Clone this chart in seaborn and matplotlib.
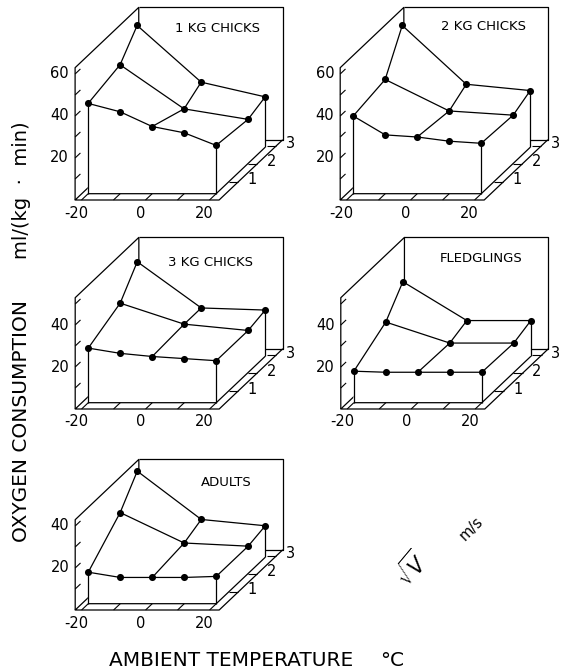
import numpy as np
import pandas as pd
import matplotlib
matplotlib.use("Agg")
import matplotlib.pyplot as plt
import seaborn as sns
from matplotlib.patches import Polygon

# ---------------- data ----------------
temps_front = [-20, -10, 0, 10, 20]          # ambient temperature, front row (degC)
temps_grid = [-20, 0, 20]                    # temperatures measured at higher winds
sqrt_v = [0.35, 2.03, 2.93]                  # sqrt(wind speed) of front / middle / back rows

panel_names = ["1 KG CHICKS", "2 KG CHICKS", "3 KG CHICKS", "FLEDGLINGS", "ADULTS"]

front_1kg = [43, 39, 32, 29, 23]
mid_1kg = [47, 26, 21]
back_1kg = [58, 31, 24]

front_2kg = [37, 28, 27, 25, 24]
mid_2kg = [40, 25, 23]
back_2kg = [58, 30, 27]

front_3kg = [26, 23.5, 22, 21, 20]
mid_3kg = [33, 23, 20]
back_3kg = [45, 23, 22]

front_fledg = [15, 14.5, 14.5, 14.5, 14.5]
mid_fledg = [24, 14, 14]
back_fledg = [35.5, 17, 17]

front_adult = [15, 12.5, 12.5, 12.5, 13]
mid_adult = [29, 14.5, 13]
back_adult = [41, 18, 15]

z_top = [63, 63, 53, 53, 43]                 # height of the box walls per panel
z_labels = [[20, 40, 60], [20, 40, 60], [20, 40], [20, 40], [20, 40]]
x_ticks = [-20, -10, 0, 10, 20]
x_labels = [-20, 0, 20]
v_ticks = [1, 2, 3]

panel_data = [
    (front_1kg, mid_1kg, back_1kg),
    (front_2kg, mid_2kg, back_2kg),
    (front_3kg, mid_3kg, back_3kg),
    (front_fledg, mid_fledg, back_fledg),
    (front_adult, mid_adult, back_adult),
]

# ---------------- layout ----------------
W, H = 562, 671
T_MIN, T_MAX, D_MAX = -22, 23, 3.35
SX, SZ = 3.2, 2.1          # pixels per degC, pixels per ml/(kg min)
DX, DY = 19.0, 18.0        # pixels per unit sqrt(v) (oblique depth direction)

origins = [(145.5, 200), (410.6, 200), (145.6, 409), (411.2, 409), (145.6, 610)]
title_pos = [(71.6, 172), (72.6, 173), (64.6, 147), (69.6, 151), (80.6, 128)]

XL = (-115, 175)
YL = (-30, 200)


def proj(T, d, z):
    T = np.asarray(T, float)
    d = np.asarray(d, float)
    z = np.asarray(z, float)
    return SX * T + DX * d, SZ * z + DY * d


sns.set_style("white")
plt.rcParams["font.family"] = ["DejaVu Sans"]
plt.rcParams["text.color"] = "black"

fig = plt.figure(figsize=(W / 100, H / 100), dpi=100)

LW = 0.9
K = "black"
TICK_FS = 10.5

for p, (name, (zf, zm, zb)) in enumerate(zip(panel_names, panel_data)):
    ox, oy = origins[p]
    left = (ox + XL[0]) / W
    bottom = (H - oy + YL[0]) / H
    ax = fig.add_axes([left, bottom, (XL[1] - XL[0]) / W, (YL[1] - YL[0]) / H])
    ax.set_xlim(*XL)
    ax.set_ylim(*YL)
    ax.set_axis_off()
    ax.patch.set_alpha(0)
    zt = z_top[p]

    def line(pts, z=1, lw=LW):
        T, d, zz = zip(*pts)
        x, y = proj(T, d, zz)
        ax.plot(x, y, color=K, lw=lw, zorder=z, clip_on=False, solid_capstyle="butt")

    # walls and floor outlines (behind everything)
    line([(T_MIN, 0, 0), (T_MIN, 0, zt), (T_MIN, D_MAX, zt), (T_MIN, D_MAX, 0)])
    line([(T_MIN, D_MAX, zt), (T_MAX, D_MAX, zt), (T_MAX, D_MAX, 0), (T_MIN, D_MAX, 0)])
    line([(T_MIN, D_MAX, 0), (T_MIN, 0, 0), (T_MAX, 0, 0), (T_MAX, D_MAX, 0)])

    d_f, d_m, d_b = sqrt_v
    zf_grid = [zf[temps_front.index(t)] for t in temps_grid]

    # hidden-surface fills (white)
    polys = []
    polys.append([(-20, d_f, 0)] + [(t, d_f, z) for t, z in zip(temps_front, zf)] + [(20, d_f, 0)])
    polys.append([(20, d_f, 0), (20, d_f, zf[-1]), (20, d_m, zm[-1]), (20, d_b, zb[-1]), (20, d_b, 0)])
    for i in range(2):
        t0, t1 = temps_grid[i], temps_grid[i + 1]
        seg = [(t, d_f, z) for t, z in zip(temps_front, zf) if t0 <= t <= t1]
        polys.append(seg + [(t1, d_m, zm[i + 1]), (t0, d_m, zm[i])])
        polys.append([(t0, d_m, zm[i]), (t1, d_m, zm[i + 1]), (t1, d_b, zb[i + 1]), (t0, d_b, zb[i])])
    for poly in polys:
        T, d, zz = zip(*poly)
        x, y = proj(T, d, zz)
        ax.add_patch(Polygon(np.column_stack([x, y]), closed=True, facecolor="white",
                             edgecolor="white", lw=0.6, zorder=2, clip_on=False))

    # box edges
    line([(-20, d_f, 0), (20, d_f, 0), (20, d_b, 0)], z=3)
    line([(-20, d_f, 0), (-20, d_f, zf[0])], z=3)
    line([(20, d_f, 0), (20, d_f, zf[-1])], z=3)
    line([(20, d_b, 0), (20, d_b, zb[-1])], z=3)

    # ticks
    for t in x_ticks:
        line([(t, 0, 0), (t, d_f, 0)], z=3, lw=0.8)
    for zz in range(10, int(zt) + 1, 10):
        line([(T_MIN, 0, zz), (T_MIN, 0.28, zz)], z=3, lw=0.8)
    for v in v_ticks:
        line([(T_MAX, v, 0), (20, v, 0)], z=3, lw=0.8)

    # surface mesh through seaborn
    recs = []
    for t, z in zip(temps_front, zf):
        recs.append(("front", t, d_f, z))
    for t, z in zip(temps_grid, zm):
        recs.append(("mid", t, d_m, z))
    for t, z in zip(temps_grid, zb):
        recs.append(("back", t, d_b, z))
    for i, t in enumerate(temps_grid):
        recs.append((f"col{t}", t, d_f, zf_grid[i]))
        recs.append((f"col{t}", t, d_m, zm[i]))
        recs.append((f"col{t}", t, d_b, zb[i]))
    df = pd.DataFrame(recs, columns=["line", "T", "d", "z"])
    df["X"], df["Y"] = proj(df["T"], df["d"], df["z"])
    sns.lineplot(data=df, x="X", y="Y", units="line", estimator=None, sort=False,
                 color=K, lw=LW, ax=ax, zorder=3, legend=False)
    pts = df[~df["line"].str.startswith("col")]
    sns.scatterplot(data=pts, x="X", y="Y", color=K, s=26, linewidth=0, ax=ax,
                    zorder=4, legend=False)
    for art in ax.lines + ax.collections:
        art.set_clip_on(False)
    ax.set_xlim(*XL)
    ax.set_ylim(*YL)
    ax.set_axis_off()

    # labels
    for t in x_labels:
        x, y = proj(t, 0, 0)
        ax.annotate(f"{t}", (x, y), xytext=(-5, -13), textcoords="offset pixels",
                    ha="center", va="center", fontsize=TICK_FS, annotation_clip=False)
    for zz in z_labels[p]:
        x, y = proj(T_MIN, 0, zz)
        ax.annotate(f"{zz}", (x, y), xytext=(-6, 0), textcoords="offset pixels",
                    ha="right", va="center", fontsize=TICK_FS, annotation_clip=False)
    for v in v_ticks:
        x, y = proj(T_MAX, v, 0)
        ax.annotate(f"{v}", (x, y), xytext=(14, 2), textcoords="offset pixels",
                    ha="center", va="center", fontsize=TICK_FS, annotation_clip=False)
    ax.text(title_pos[p][0], title_pos[p][1], name, ha="center", va="center", fontsize=9.5)

# global axis labels
fig.text(22 / W, 1 - 421 / H, "OXYGEN CONSUMPTION", rotation=90, ha="center", va="center",
         fontsize=14.5)
fig.text(22 / W, 1 - 190 / H, "ml/(kg  ·  min)", rotation=90, ha="center", va="center",
         fontsize=14)
fig.text(231 / W, 1 - 660 / H, "AMBIENT TEMPERATURE", ha="center", va="center", fontsize=14.5)
fig.text(380 / W, 1 - 660 / H, "°C", ha="left", va="center", fontsize=14.5)
fig.text(412 / W, 1 - 569 / H, r"$\sqrt{V}$", rotation=50, ha="center", va="center", fontsize=15)
fig.text(471 / W, 1 - 529 / H, "m/s", rotation=45, ha="center", va="center", fontsize=10.5)

fig.savefig("out.png", dpi=100, facecolor="white")
